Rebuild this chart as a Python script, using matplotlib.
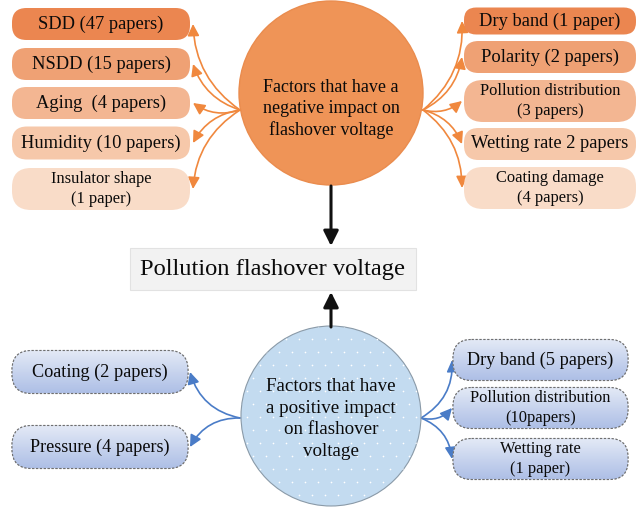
import matplotlib.pyplot as plt
import numpy as np
from matplotlib.patches import Circle, FancyBboxPatch, FancyArrowPatch

# factor labels (paper counts as given in the figure)
neg_left = ["SDD (47 papers)", "NSDD (15 papers)", "Aging  (4 papers)",
            "Humidity (10 papers)", "Insulator shape\n(1 paper)"]
neg_right = ["Dry band (1 paper)", "Polarity (2 papers)",
             "Pollution distribution\n(3 papers)", "Wetting rate 2 papers",
             "Coating damage\n(4 papers)"]
pos_left = ["Coating (2 papers)", "Pressure (4 papers)"]
pos_right = ["Dry band (5 papers)", "Pollution distribution\n(10papers)",
             "Wetting rate\n(1 paper)"]
neg_title = "Factors that have a\nnegative impact on\nflashover voltage"
pos_title = "Factors that have\na positive impact\non flashover\nvoltage"
center_title = "Pollution flashover voltage"

# layout in pixel units (y grows downward)
neg_left_y = [24, 64, 103, 143, 189]
neg_left_h = [32, 32, 32, 33, 42]
neg_right_y = [21, 57, 101, 144, 188]
neg_right_h = [27, 32, 42, 32, 42]
pos_left_y = [372, 447]
pos_right_y = [360, 408, 459]
neg_left_colors = ["#EB8650", "#EFA174", "#F3B692", "#F6C8AA", "#F9DCC8"]
neg_right_colors = ["#EB8650", "#EFA174", "#F3B692", "#F6C8AA", "#F9DCC8"]

plt.rcParams["font.family"] = "Liberation Serif"

fig = plt.figure(figsize=(6.36, 5.08), dpi=100)
ax = fig.add_axes([0, 0, 1, 1])
ax.set_xlim(0, 636)
ax.set_ylim(508, 0)
ax.axis("off")

PX = 0.72  # px -> pt at 100 dpi


def box(x0, x1, yc, h, color, label, size, dashed=False, grad=None):
    p = FancyBboxPatch((x0, yc - h / 2), x1 - x0, h,
                       boxstyle="round,pad=0,rounding_size=%f" % (h / 2.2),
                       facecolor=color, edgecolor="#9a9a9a" if dashed else "none",
                       linestyle=(0, (2, 1.5)), linewidth=0.8, zorder=2)
    ax.add_patch(p)
    if grad is not None:
        g = np.linspace(0, 1, 64).reshape(-1, 1)
        im = ax.imshow(g, cmap=grad, extent=(x0, x1, yc + h / 2, yc - h / 2),
                       aspect="auto", zorder=2.1)
        im.set_clip_path(p)
        p2 = FancyBboxPatch((x0, yc - h / 2), x1 - x0, h,
                            boxstyle="round,pad=0,rounding_size=%f" % (h / 2.2),
                            facecolor="none", edgecolor="#6f6f6f",
                            linestyle=(0, (2, 1.5)), linewidth=0.8, zorder=2.2)
        ax.add_patch(p2)
    ax.text((x0 + x1) / 2, yc, label, ha="center", va="center",
            fontsize=size * PX, color="#0a0a0a", linespacing=1.35, zorder=3)


def curve(start, end, color, rad):
    a = FancyArrowPatch(start, end, arrowstyle="-|>,head_length=7,head_width=3.5",
                        connectionstyle="arc3,rad=%f" % rad, color=color,
                        linewidth=1.2, zorder=1.5, shrinkA=0, shrinkB=0)
    ax.add_patch(a)


# top circle
ax.add_patch(Circle((331, 93), 92, facecolor="#EF9457", edgecolor="#EA8C4E",
                    linewidth=1, zorder=2))
ax.text(331, 109, neg_title, ha="center", va="center", fontsize=18 * PX,
        linespacing=1.27, color="#0a0a0a", zorder=3)

orange = "#F0883E"
for lab, y, h, c in zip(neg_left, neg_left_y, neg_left_h, neg_left_colors):
    size = 16.5 if "\n" in lab else 18.5
    box(12, 190, y, h, c, lab, size)
    curve((240, 110), (193, y), orange, -0.25 if y < 110 else 0.25)

for lab, y, h, c in zip(neg_right, neg_right_y, neg_right_h, neg_right_colors):
    size = 16.5 if "\n" in lab else 18.5
    box(464, 636, y, h, c, lab, size)
    curve((423, 110), (462, y), orange, 0.25 if y < 110 else -0.25)

# center box
ax.add_patch(FancyBboxPatch((130, 248), 286, 42, boxstyle="square,pad=0",
                            facecolor="#F2F2F2", edgecolor="#E2E2E2",
                            linewidth=0.8, zorder=2))
ax.text(272, 269, center_title, ha="center", va="center", fontsize=24.5 * PX,
        color="#0a0a0a", zorder=3)

ax.annotate("", xy=(331, 246), xytext=(331, 186),
            arrowprops=dict(arrowstyle="-|>,head_length=0.9,head_width=0.45",
                            color="#111111", lw=2.2, shrinkA=0, shrinkB=0))
ax.annotate("", xy=(331, 292), xytext=(331, 327),
            arrowprops=dict(arrowstyle="-|>,head_length=0.9,head_width=0.45",
                            color="#111111", lw=2.2, shrinkA=0, shrinkB=0))

# bottom circle with dot pattern
bc = Circle((331, 416), 90, facecolor="#C3DBF0", edgecolor="#8a9aa8",
            linewidth=0.8, zorder=2)
ax.add_patch(bc)
gx, gy = np.meshgrid(np.arange(240, 425, 13), np.arange(326, 510, 13))
gx = gx + (np.arange(gy.shape[0])[:, None] % 2) * 6.5
dots = ax.scatter(gx.ravel(), gy.ravel(), s=1.5, color="white", zorder=2.1,
                  linewidths=0)
dots.set_clip_path(bc)
ax.text(331, 419, pos_title, ha="center", va="center", fontsize=19 * PX,
        linespacing=1.35, color="#0a0a0a", zorder=3)

blue = "#4A7CC7"
blue_grad = plt.matplotlib.colors.LinearSegmentedColormap.from_list(
    "bg", ["#E4EAF6", "#C8D4EE", "#AEBFE6"])
for lab, y in zip(pos_left, pos_left_y):
    box(12, 188, y, 43, "#C8D4EE", lab, 18.3, dashed=True, grad=blue_grad)
    curve((240, 418), (190, y), blue, -0.3 if y < 418 else 0.3)

for lab, y in zip(pos_right, pos_right_y):
    size = 16.5 if "\n" in lab else 18.3
    box(453, 628, y, 41, "#C8D4EE", lab, size, dashed=True, grad=blue_grad)
    curve((421, 418), (452, y), blue, 0.3 if y < 418 else -0.3)

fig.savefig("out.png", dpi=100)
